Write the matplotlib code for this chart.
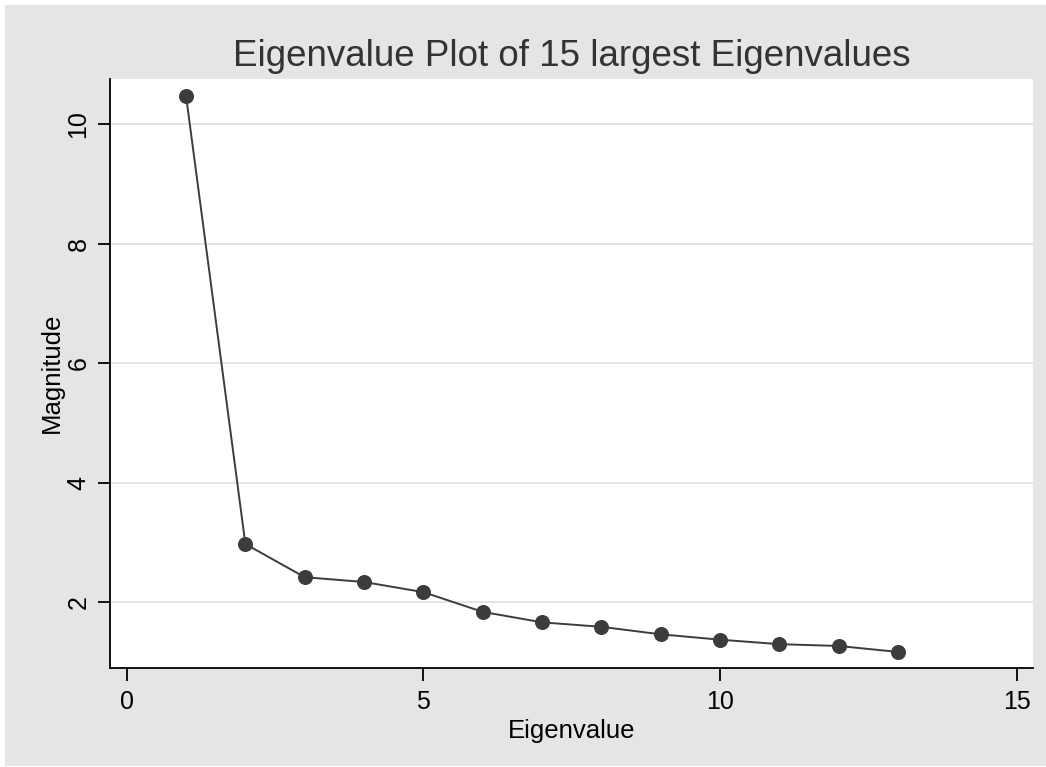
import numpy as np
import matplotlib
matplotlib.use('Agg')
import matplotlib.pyplot as plt
from matplotlib.patches import Rectangle

plt.rcParams['font.family'] = ['Liberation Sans', 'DejaVu Sans']

# eigenvalue index and magnitudes
eig_index = [1, 2, 3, 4, 5, 6, 7, 8, 9, 10, 11, 12, 13]
magnitude = [10.47, 2.975, 2.42, 2.34, 2.17, 1.84, 1.665, 1.59, 1.465,
             1.375, 1.30, 1.27, 1.17]
x_ticks = [0, 5, 10, 15]
y_ticks = [2, 4, 6, 8, 10]
title = 'Eigenvalue Plot of 15 largest Eigenvalues'

bg_gray = '#e5e5e5'
ink = '#3c3c3c'

fig = plt.figure(figsize=(10.46, 7.67), dpi=100)
fig.patch.set_facecolor('white')
fig.patches.append(Rectangle((5 / 1046, 1 / 767), 1041 / 1046, 761 / 767,
                             transform=fig.transFigure, facecolor=bg_gray,
                             edgecolor='none', zorder=-10))

ax = fig.add_axes([0.1052, 0.1295, 0.8821, 0.7676])
ax.set_facecolor('white')

ax.plot(eig_index, magnitude, '-o', color=ink, lw=1.4, markersize=9.8,
        markerfacecolor=ink, markeredgecolor=ink, zorder=3)

ax.set_xlim(-0.281, 15.27)
ax.set_ylim(0.907, 10.753)
ax.set_xticks(x_ticks)
ax.set_yticks(y_ticks)
ax.grid(axis='y', color='#e3e3e3', lw=1.3)
ax.set_axisbelow(True)

for side in ['top', 'right']:
    ax.spines[side].set_visible(False)
for side in ['left', 'bottom']:
    ax.spines[side].set_linewidth(1.3)
    ax.spines[side].set_color('black')

ax.tick_params(axis='both', length=9, width=1.3, labelsize=18, colors='black')
ax.tick_params(axis='x', pad=7)
ax.tick_params(axis='y', pad=5)
for lab in ax.get_yticklabels():
    lab.set_rotation(90)
    lab.set_va('center')

ax.set_xlabel('Eigenvalue', fontsize=18.5, labelpad=4)
ax.set_ylabel('Magnitude', fontsize=18.5, labelpad=2)
ax.set_title(title, fontsize=26.5, color='#333333', pad=9)

fig.savefig('out.png', dpi=100, facecolor=fig.get_facecolor())
